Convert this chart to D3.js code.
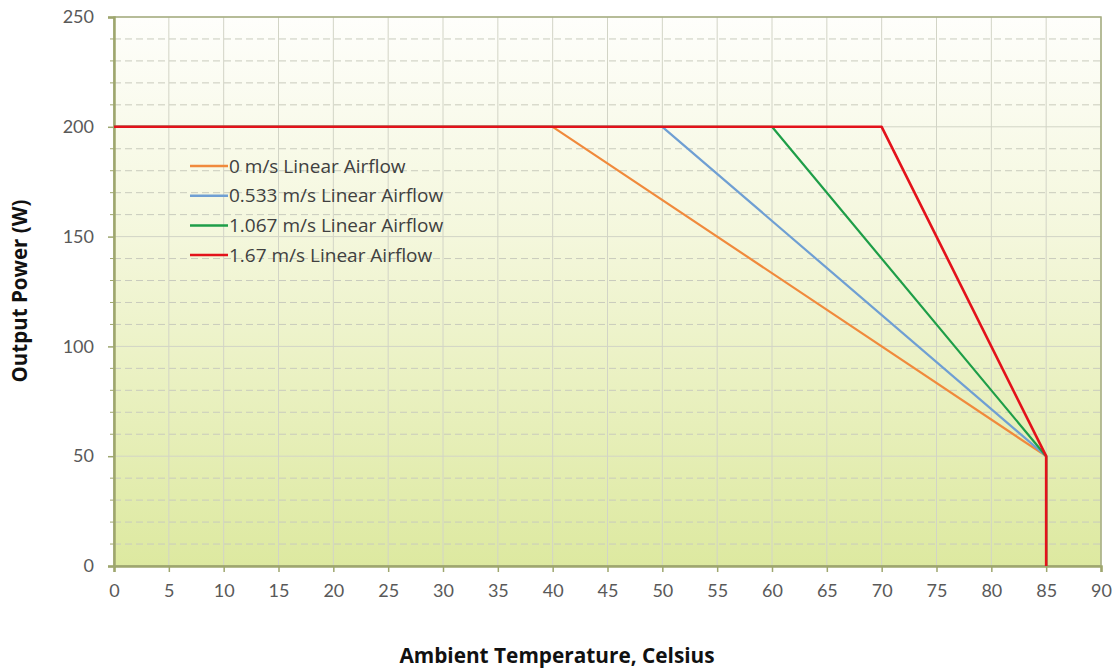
<!DOCTYPE html>
<html><head><meta charset="utf-8">
<script src="https://cdn.jsdelivr.net/npm/d3@7"></script>
<style>body{margin:0;background:#fff}svg{display:block}</style>
</head><body>
<svg id="c" width="1115" height="671"></svg>
<script>
const seriesNames = ["0 m/s Linear Airflow","0.533 m/s Linear Airflow","1.067 m/s Linear Airflow","1.67 m/s Linear Airflow"];
const seriesColors = ["#f08a3c","#6f9fd3","#1e9e48","#e3121b"];
const temps0 = [0,40,85,85];
const temps1 = [0,50,85,85];
const temps2 = [0,60,85,85];
const temps3 = [0,70,85,85];
const power = [200,200,50,0];
const xTicks = [0,5,10,15,20,25,30,35,40,45,50,55,60,65,70,75,80,85,90];
const yTicks = [0,50,100,150,200,250];
const yMinor = [10,20,30,40,60,70,80,90,110,120,130,140,160,170,180,190,210,220,230,240];

const svg = d3.select("#c");
const L=114, R=1101, T=17, B=566;
const x = d3.scaleLinear().domain([0,90]).range([L,R]);
const y = d3.scaleLinear().domain([0,250]).range([B,T]);

const defs = svg.append("defs");
const g = defs.append("linearGradient").attr("id","bg").attr("x1",0).attr("y1",0).attr("x2",0).attr("y2",1);
g.append("stop").attr("offset","0%").attr("stop-color","#fefefb");
g.append("stop").attr("offset","40%").attr("stop-color","#f4f7dc");
g.append("stop").attr("offset","100%").attr("stop-color","#dde9a0");
svg.append("rect").attr("x",L).attr("y",T).attr("width",R-L).attr("height",B-T).attr("fill","url(#bg)");

// minor dashed horizontal
svg.append("g").selectAll("line").data(yMinor).join("line")
  .attr("x1",L).attr("x2",R).attr("y1",d=>y(d)).attr("y2",d=>y(d))
  .attr("stroke","#c9cbbd").attr("stroke-width",1).attr("stroke-dasharray","7,4");
// major horizontal
svg.append("g").selectAll("line").data(yTicks.filter(d=>d>0)).join("line")
  .attr("x1",L).attr("x2",R).attr("y1",d=>y(d)).attr("y2",d=>y(d))
  .attr("stroke","#d2d4c6").attr("stroke-width",1);
// vertical grid
svg.append("g").selectAll("line").data(xTicks.filter(d=>d>0)).join("line")
  .attr("x1",d=>x(d)).attr("x2",d=>x(d)).attr("y1",T).attr("y2",B)
  .attr("stroke","#d2d4c6").attr("stroke-width",1);

// border
svg.append("rect").attr("x",L).attr("y",T).attr("width",R-L).attr("height",B-T)
  .attr("fill","none").attr("stroke","#a5ad80").attr("stroke-width",1.5);

// axes
const xAxis = svg.append("g").attr("transform",`translate(0,${B})`)
  .call(d3.axisBottom(x).tickValues(xTicks).tickSize(6).tickPadding(12));
const yAxis = svg.append("g").attr("transform",`translate(${L},0)`)
  .call(d3.axisLeft(y).tickValues(yTicks).tickSize(6).tickPadding(14));
[xAxis,yAxis].forEach(a=>{
  a.select(".domain").attr("stroke","#9ea66e").attr("stroke-width",2.5);
  a.selectAll(".tick line").attr("stroke","#9ea66e").attr("stroke-width",1.5);
  a.selectAll("text").attr("fill","#595959").style("font-family","Lato, 'Open Sans', sans-serif").style("font-size","18px");
});
// minor y ticks
svg.append("g").selectAll("line").data(yMinor).join("line")
  .attr("x1",L-4).attr("x2",L).attr("y1",d=>y(d)).attr("y2",d=>y(d))
  .attr("stroke","#9ea66e").attr("stroke-width",1);

// lines
const temps = [temps0,temps1,temps2,temps3];
const line = d3.line().x(d=>x(d[0])).y(d=>y(d[1]));
temps.forEach((t,i)=>{
  const pts = t.map((v,j)=>[v,power[j]]);
  svg.append("path").datum(pts).attr("d",line).attr("fill","none")
    .attr("stroke",seriesColors[i]).attr("stroke-width",i===3?2.6:2.2).attr("stroke-linejoin","round");
});

// legend
const leg = svg.append("g");
seriesNames.forEach((n,i)=>{
  const yy = 166 + i*29.7;
  leg.append("line").attr("x1",190).attr("x2",228).attr("y1",yy).attr("y2",yy)
    .attr("stroke",seriesColors[i]).attr("stroke-width",2.5);
  leg.append("text").attr("x",229).attr("y",yy).attr("dy","0.35em")
    .attr("fill","#404040").style("font-family","'Open Sans', sans-serif").style("font-size","19px").text(n);
});

// titles
svg.append("text").attr("transform",`translate(27,${291}) rotate(-90)`).attr("text-anchor","middle")
  .style("font-family","'Open Sans', sans-serif").style("font-weight","bold").style("font-size","20.5px")
  .attr("fill","#111").text("Output Power (W)");
svg.append("text").attr("x",557).attr("y",663).attr("text-anchor","middle")
  .style("font-family","'Open Sans', sans-serif").style("font-weight","bold").style("font-size","20.8px")
  .attr("fill","#111").text("Ambient Temperature, Celsius");
</script>
</body></html>
